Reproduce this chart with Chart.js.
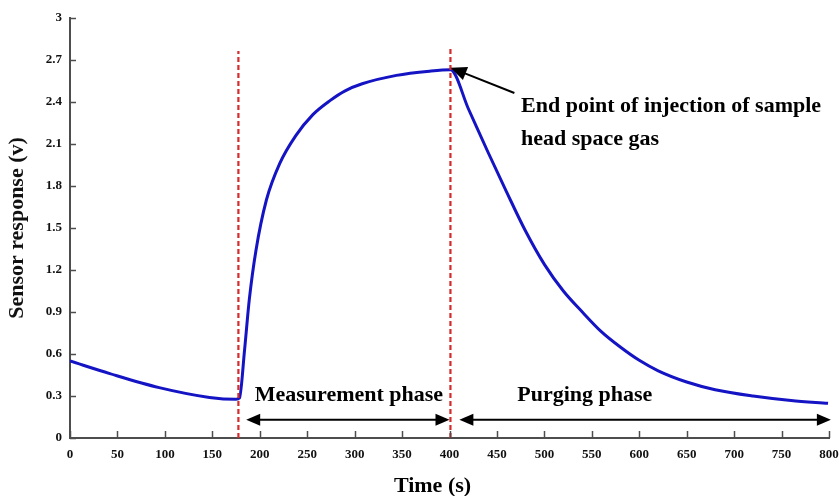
<!DOCTYPE html>
<html>
<head>
<meta charset="utf-8">
<script src="https://cdn.jsdelivr.net/npm/chart.js@4.4.1/dist/chart.umd.min.js"></script>
<style>
  html, body { margin: 0; padding: 0; background: #ffffff; }
  #wrap { width: 839px; height: 496px; position: relative; }
</style>
</head>
<body>
<div id="wrap"><canvas id="c" width="839" height="496"></canvas></div>
<script>
// ---- data ----
const timeValues = [0, 42, 94, 147, 175, 178.6, 184, 189, 196, 207, 221, 238, 256, 274, 290, 308, 344, 379, 401,
  420, 440, 460, 480, 500, 520, 540, 560, 580, 600, 620, 650, 680, 720, 760, 799];
const responseValues = [0.55, 0.46, 0.36, 0.29, 0.276, 0.285, 0.63, 0.99, 1.34, 1.70, 1.96, 2.16, 2.31, 2.41, 2.48, 2.53, 2.59, 2.62, 2.63,
  2.35, 2.05, 1.76, 1.48, 1.24, 1.05, 0.90, 0.76, 0.65, 0.555, 0.48, 0.40, 0.345, 0.30, 0.268, 0.248];

const xTickValues = [0, 50, 100, 150, 200, 250, 300, 350, 400, 450, 500, 550, 600, 650, 700, 750, 800];
const yTickValues = [0, 0.3, 0.6, 0.9, 1.2, 1.5, 1.8, 2.1, 2.4, 2.7, 3];

const phaseBoundaryX = [177.5, 401];
const phaseBoundaryTop = [2.765, 2.78];

const phaseLabels = ['Measurement phase', 'Purging phase'];
const phaseLabelX = [294, 542.6];
const phaseLabelY = 0.265;
const phaseArrowFrom = [185.7, 410.4];
const phaseArrowTo = [400, 802];
const phaseArrowY = 0.13;

const noteLines = ['End point of injection of sample', 'head space gas'];
const noteX = 475.4;
const noteY = [2.33, 2.095];
const noteArrowFrom = [468.4, 2.464];
const noteArrowTo = [401.2, 2.645];

const xTitle = 'Time (s)';
const yTitle = 'Sensor response (v)';

// ---- chart ----
const SERIF = '"Liberation Serif", "Times New Roman", serif';
const AXIS_COLOR = '#4d4d4d';

const curve = timeValues.map((t, i) => ({ x: t, y: responseValues[i] }));
const boundaryDatasets = phaseBoundaryX.map((bx, i) => ({
  data: [{ x: bx, y: 0 }, { x: bx, y: phaseBoundaryTop[i] }],
  borderColor: '#d42b2b',
  borderWidth: 2.2,
  borderDash: [5, 3],
  pointRadius: 0,
  fill: false
}));

function arrowHead(ctx, x0, y0, x1, y1, len, half) {
  const a = Math.atan2(y1 - y0, x1 - x0);
  ctx.beginPath();
  ctx.moveTo(x1, y1);
  ctx.lineTo(x1 - len * Math.cos(a) + half * Math.sin(a), y1 - len * Math.sin(a) - half * Math.cos(a));
  ctx.lineTo(x1 - len * Math.cos(a) - half * Math.sin(a), y1 - len * Math.sin(a) + half * Math.cos(a));
  ctx.closePath();
  ctx.fill();
}

const decorations = {
  id: 'decorations',
  afterDraw(chart) {
    const ctx = chart.ctx;
    const xs = chart.scales.x, ys = chart.scales.y;
    const area = chart.chartArea;
    ctx.save();
    // inward tick marks
    ctx.strokeStyle = AXIS_COLOR;
    ctx.lineWidth = 1.5;
    yTickValues.forEach(v => {
      const py = Math.round(ys.getPixelForValue(v)) + 0.5;
      ctx.beginPath(); ctx.moveTo(area.left, py); ctx.lineTo(area.left + 6, py); ctx.stroke();
    });
    xTickValues.forEach(v => {
      const px = Math.round(xs.getPixelForValue(v)) + 0.5;
      ctx.beginPath(); ctx.moveTo(px, area.bottom); ctx.lineTo(px, area.bottom - 7); ctx.stroke();
    });
    // phase arrows
    ctx.strokeStyle = '#000';
    ctx.fillStyle = '#000';
    ctx.lineWidth = 2;
    const py = ys.getPixelForValue(phaseArrowY);
    phaseArrowFrom.forEach((f, i) => {
      const a = xs.getPixelForValue(f), b = xs.getPixelForValue(phaseArrowTo[i]);
      ctx.beginPath(); ctx.moveTo(a + 8, py); ctx.lineTo(b - 8, py); ctx.stroke();
      arrowHead(ctx, b, py, a, py, 14, 6);
      arrowHead(ctx, a, py, b, py, 14, 6);
    });
    // phase labels
    ctx.font = 'bold 22px ' + SERIF;
    ctx.textAlign = 'center';
    ctx.textBaseline = 'alphabetic';
    phaseLabels.forEach((t, i) => {
      ctx.fillText(t, xs.getPixelForValue(phaseLabelX[i]), ys.getPixelForValue(phaseLabelY));
    });
    // note with arrow
    const ax0 = xs.getPixelForValue(noteArrowFrom[0]), ay0 = ys.getPixelForValue(noteArrowFrom[1]);
    const ax1 = xs.getPixelForValue(noteArrowTo[0]), ay1 = ys.getPixelForValue(noteArrowTo[1]);
    const ang = Math.atan2(ay1 - ay0, ax1 - ax0);
    ctx.beginPath(); ctx.moveTo(ax0, ay0);
    ctx.lineTo(ax1 - 12 * Math.cos(ang), ay1 - 12 * Math.sin(ang)); ctx.stroke();
    arrowHead(ctx, ax0, ay0, ax1, ay1, 16, 7);
    ctx.textAlign = 'left';
    noteLines.forEach((t, i) => {
      ctx.fillText(t, xs.getPixelForValue(noteX), ys.getPixelForValue(noteY[i]));
    });
    // x axis title
    ctx.font = 'bold 22px ' + SERIF;
    ctx.textAlign = 'center';
    ctx.fillText(xTitle, 432.5, 492);
    ctx.restore();
  }
};

new Chart(document.getElementById('c'), {
  type: 'line',
  data: {
    datasets: [
      ...boundaryDatasets,
      {
        data: curve,
        borderColor: '#1414c4',
        borderWidth: 3,
        pointRadius: 0,
        cubicInterpolationMode: 'monotone',
        fill: false
      }
    ]
  },
  options: {
    responsive: false,
    animation: false,
    devicePixelRatio: 1,
    layout: { padding: { top: 18, right: 10, left: 0, bottom: 0 } },
    plugins: { legend: { display: false }, tooltip: { enabled: false } },
    scales: {
      x: {
        type: 'linear',
        min: 0, max: 800,
        afterBuildTicks: s => { s.ticks = xTickValues.map(v => ({ value: v })); },
        afterFit: s => { s.height = 58; s.paddingRight = 0; s.paddingLeft = 0; },
        grid: { display: false, drawTicks: false },
        border: { display: true, color: AXIS_COLOR, width: 2 },
        ticks: {
          autoSkip: false, maxRotation: 0, padding: 9,
          color: '#111',
          font: { family: SERIF, size: 13, weight: 'bold' },
          callback: v => String(v)
        },
        title: { display: false }
      },
      y: {
        type: 'linear',
        min: 0, max: 3,
        afterBuildTicks: s => { s.ticks = yTickValues.map(v => ({ value: v })); },
        afterFit: s => { s.width = 70; s.paddingTop = 0; s.paddingBottom = 0; },
        grid: { display: false, drawTicks: false },
        border: { display: true, color: AXIS_COLOR, width: 2 },
        ticks: {
          padding: 8,
          color: '#111',
          font: { family: SERIF, size: 13, weight: 'bold' },
          callback: v => String(Number(v.toFixed(1)))
        },
        title: {
          display: true,
          text: yTitle,
          color: '#111',
          font: { family: SERIF, size: 22, weight: 'bold' },
          padding: { top: 4, bottom: 0 }
        }
      }
    }
  },
  plugins: [decorations]
});
</script>
</body>
</html>
